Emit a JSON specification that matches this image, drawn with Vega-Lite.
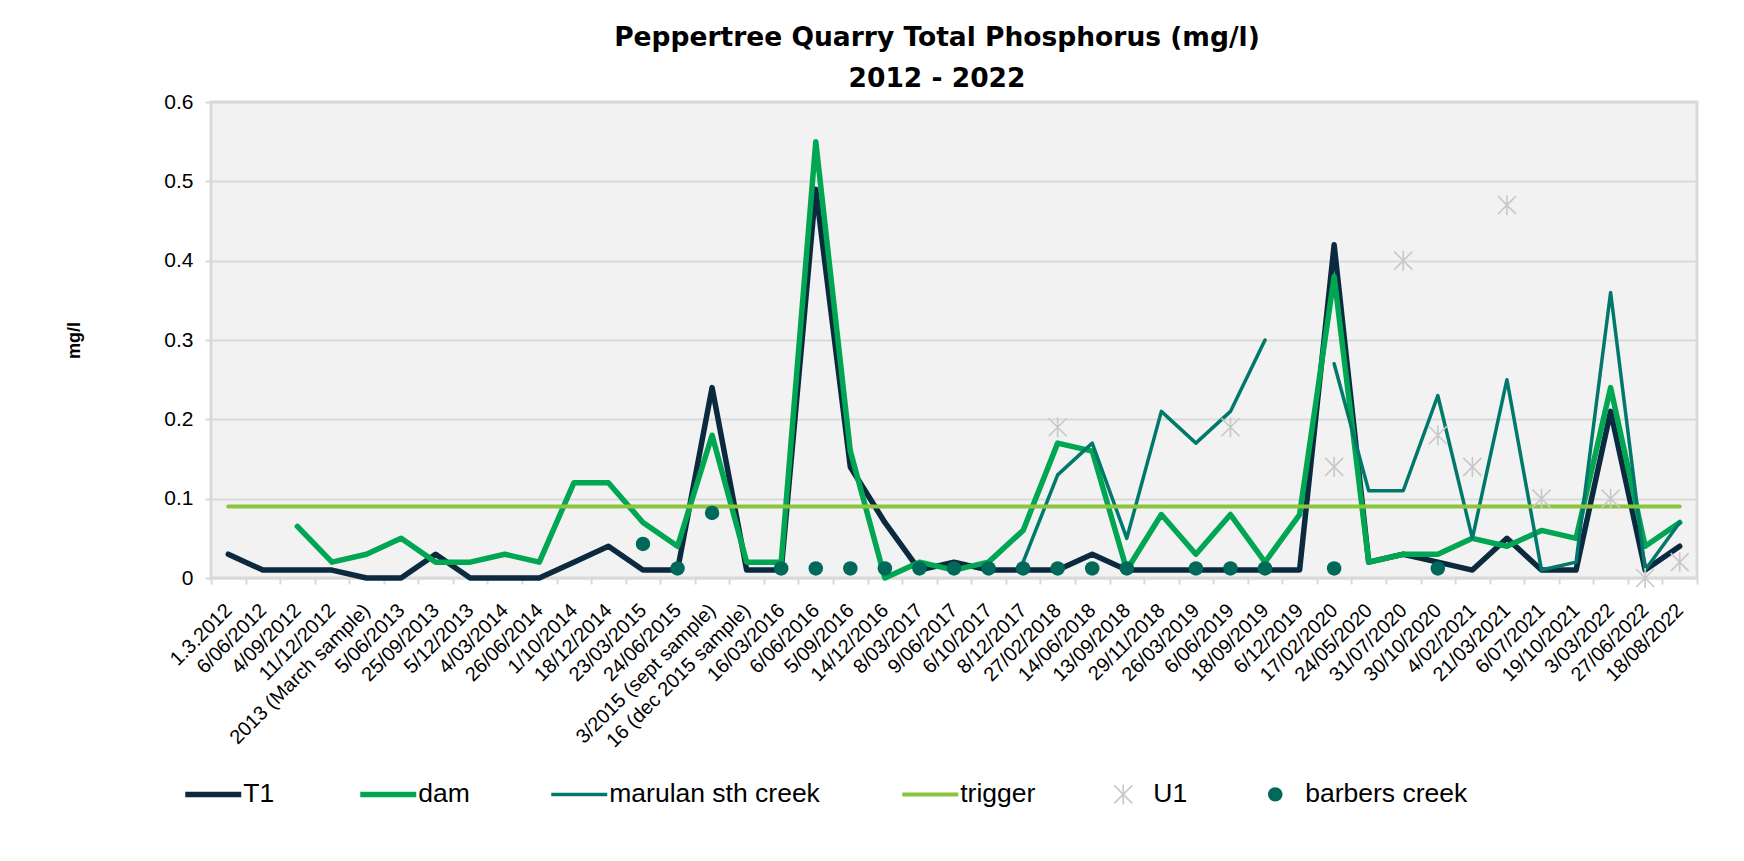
{
  "$schema": "https://vega.github.io/schema/vega-lite/v6.json",
  "width": 1486,
  "height": 476,
  "autosize": {"type": "none"},
  "padding": {"left": 211, "top": 102, "right": 47, "bottom": 283},
  "background": "white",
  "config": {
    "font": "Liberation Sans",
    "view": {"fill": "#f2f2f2", "stroke": "#d9d9d9", "strokeWidth": 3}
  },
  "title": {
    "text": ["Peppertree Quarry Total Phosphorus (mg/l)", "2012 - 2022"],
    "font": "DejaVu Sans",
    "fontSize": 26.5,
    "fontWeight": "bold",
    "color": "black",
    "lineHeight": 41,
    "anchor": "middle",
    "frame": "group",
    "dx": -17,
    "dy": 36,
    "offset": 8,
    "baseline": "bottom"
  },
  "data": {
    "values": [
      {"date": "1.3.2012", "T1": 0.03, "trigger": 0.09},
      {"date": "6/06/2012", "T1": 0.01, "trigger": 0.09},
      {"date": "4/09/2012", "T1": 0.01, "dam": 0.065, "trigger": 0.09},
      {"date": "11/12/2012", "T1": 0.01, "dam": 0.02, "trigger": 0.09},
      {"date": "2013 (March sample)", "T1": 0, "dam": 0.03, "trigger": 0.09},
      {"date": "5/06/2013", "T1": 0, "dam": 0.05, "trigger": 0.09},
      {"date": "25/09/2013", "T1": 0.03, "dam": 0.02, "trigger": 0.09},
      {"date": "5/12/2013", "T1": 0, "dam": 0.02, "trigger": 0.09},
      {"date": "4/03/2014", "T1": 0, "dam": 0.03, "trigger": 0.09},
      {"date": "26/06/2014", "T1": 0, "dam": 0.02, "trigger": 0.09},
      {"date": "1/10/2014", "T1": 0.02, "dam": 0.12, "trigger": 0.09},
      {"date": "18/12/2014", "T1": 0.04, "dam": 0.12, "trigger": 0.09},
      {"date": "23/03/2015", "T1": 0.01, "dam": 0.07, "trigger": 0.09, "barbers creek": 0.043},
      {"date": "24/06/2015", "T1": 0.01, "dam": 0.04, "trigger": 0.09, "barbers creek": 0.012},
      {"date": "3/2015 (sept sample)", "T1": 0.24, "dam": 0.18, "trigger": 0.09, "barbers creek": 0.082},
      {"date": "16 (dec 2015 sample)", "T1": 0.01, "dam": 0.02, "trigger": 0.09},
      {"date": "16/03/2016", "T1": 0.01, "dam": 0.02, "trigger": 0.09, "barbers creek": 0.012},
      {"date": "6/06/2016", "T1": 0.49, "dam": 0.55, "trigger": 0.09, "barbers creek": 0.012},
      {"date": "5/09/2016", "T1": 0.14, "dam": 0.16, "trigger": 0.09, "barbers creek": 0.012},
      {"date": "14/12/2016", "T1": 0.07, "dam": 0, "trigger": 0.09, "barbers creek": 0.012},
      {"date": "8/03/2017", "T1": 0.01, "dam": 0.02, "trigger": 0.09, "barbers creek": 0.012},
      {"date": "9/06/2017", "T1": 0.02, "dam": 0.01, "trigger": 0.09, "barbers creek": 0.012},
      {"date": "6/10/2017", "T1": 0.01, "dam": 0.02, "trigger": 0.09, "barbers creek": 0.012},
      {"date": "8/12/2017", "T1": 0.01, "dam": 0.06, "marulan sth creek": 0.02, "trigger": 0.09, "barbers creek": 0.012},
      {"date": "27/02/2018", "T1": 0.01, "dam": 0.17, "marulan sth creek": 0.13, "trigger": 0.09, "U1": 0.19, "barbers creek": 0.012},
      {"date": "14/06/2018", "T1": 0.03, "dam": 0.16, "marulan sth creek": 0.17, "trigger": 0.09, "barbers creek": 0.012},
      {"date": "13/09/2018", "T1": 0.01, "dam": 0.01, "marulan sth creek": 0.05, "trigger": 0.09, "barbers creek": 0.012},
      {"date": "29/11/2018", "T1": 0.01, "dam": 0.08, "marulan sth creek": 0.21, "trigger": 0.09},
      {"date": "26/03/2019", "T1": 0.01, "dam": 0.03, "marulan sth creek": 0.17, "trigger": 0.09, "barbers creek": 0.012},
      {"date": "6/06/2019", "T1": 0.01, "dam": 0.08, "marulan sth creek": 0.21, "trigger": 0.09, "U1": 0.19, "barbers creek": 0.012},
      {"date": "18/09/2019", "T1": 0.01, "dam": 0.02, "marulan sth creek": 0.30, "trigger": 0.09, "barbers creek": 0.012},
      {"date": "6/12/2019", "T1": 0.01, "dam": 0.08, "marulan sth creek": null, "trigger": 0.09},
      {"date": "17/02/2020", "T1": 0.42, "dam": 0.38, "marulan sth creek": 0.27, "trigger": 0.09, "U1": 0.14, "barbers creek": 0.012},
      {"date": "24/05/2020", "T1": 0.02, "dam": 0.02, "marulan sth creek": 0.11, "trigger": 0.09},
      {"date": "31/07/2020", "T1": 0.03, "dam": 0.03, "marulan sth creek": 0.11, "trigger": 0.09, "U1": 0.40},
      {"date": "30/10/2020", "T1": 0.02, "dam": 0.03, "marulan sth creek": 0.23, "trigger": 0.09, "U1": 0.18, "barbers creek": 0.012},
      {"date": "4/02/2021", "T1": 0.01, "dam": 0.05, "marulan sth creek": 0.05, "trigger": 0.09, "U1": 0.14},
      {"date": "21/03/2021", "T1": 0.05, "dam": 0.04, "marulan sth creek": 0.25, "trigger": 0.09, "U1": 0.47},
      {"date": "6/07/2021", "T1": 0.01, "dam": 0.06, "marulan sth creek": 0.01, "trigger": 0.09, "U1": 0.10},
      {"date": "19/10/2021", "T1": 0.01, "dam": 0.05, "marulan sth creek": 0.02, "trigger": 0.09},
      {"date": "3/03/2022", "T1": 0.21, "dam": 0.24, "marulan sth creek": 0.36, "trigger": 0.09, "U1": 0.10},
      {"date": "27/06/2022", "T1": 0.01, "dam": 0.04, "marulan sth creek": 0.01, "trigger": 0.09, "U1": 0},
      {"date": "18/08/2022", "T1": 0.04, "dam": 0.07, "marulan sth creek": 0.07, "trigger": 0.09, "U1": 0.02}
    ]
  },
  "transform": [
    {"fold": ["T1", "dam", "marulan sth creek", "trigger", "U1", "barbers creek"], "as": ["series", "value"]}
  ],
  "encoding": {
    "x": {
      "field": "date",
      "type": "nominal",
      "scale": {
        "domain": ["1.3.2012", "6/06/2012", "4/09/2012", "11/12/2012", "2013 (March sample)", "5/06/2013", "25/09/2013", "5/12/2013", "4/03/2014", "26/06/2014", "1/10/2014", "18/12/2014", "23/03/2015", "24/06/2015", "3/2015 (sept sample)", "16 (dec 2015 sample)", "16/03/2016", "6/06/2016", "5/09/2016", "14/12/2016", "8/03/2017", "9/06/2017", "6/10/2017", "8/12/2017", "27/02/2018", "14/06/2018", "13/09/2018", "29/11/2018", "26/03/2019", "6/06/2019", "18/09/2019", "6/12/2019", "17/02/2020", "24/05/2020", "31/07/2020", "30/10/2020", "4/02/2021", "21/03/2021", "6/07/2021", "19/10/2021", "3/03/2022", "27/06/2022", "18/08/2022"],
        "paddingInner": 0,
        "paddingOuter": 0
      },
      "axis": {
        "title": null,
        "labelAngle": -45,
        "labelAlign": "right",
        "labelBaseline": "middle",
        "labelFontSize": 20,
        "labelColor": "black",
        "labelPadding": 23,
        "labelOverlap": false,
        "labelLimit": 400,
        "domain": false,
        "grid": false,
        "ticks": true,
        "tickBand": "extent",
        "tickSize": 6,
        "tickColor": "#d9d9d9",
        "tickWidth": 2
      }
    },
    "y": {
      "field": "value",
      "type": "quantitative",
      "scale": {"domain": [0, 0.6], "nice": false},
      "axis": {
        "title": "mg/l",
        "titleFontSize": 18,
        "titleFontWeight": "bold",
        "titleColor": "black",
        "titlePadding": 80,
        "values": [0, 0.1, 0.2, 0.3, 0.4, 0.5, 0.6],
        "format": ".1~f",
        "labelFontSize": 21,
        "labelColor": "black",
        "labelPadding": 12,
        "domain": false,
        "gridColor": "#d9d9d9",
        "gridWidth": 2,
        "tickColor": "#d9d9d9",
        "tickSize": 6,
        "tickWidth": 2
      }
    }
  },
  "layer": [
    {
      "transform": [{"filter": {"field": "series", "equal": "T1"}}],
      "mark": {"type": "line", "invalid": "break-paths-filter-domains", "stroke": "#0b2a3f", "strokeWidth": 5.5, "strokeJoin": "round", "strokeCap": "round"},
      "encoding": {}
    },
    {
      "transform": [{"filter": {"field": "series", "equal": "dam"}}],
      "mark": {"type": "line", "invalid": "break-paths-filter-domains", "stroke": "#00a651", "strokeWidth": 5.5, "strokeJoin": "round", "strokeCap": "round"},
      "encoding": {}
    },
    {
      "transform": [{"filter": {"field": "series", "equal": "marulan sth creek"}}],
      "mark": {"type": "line", "invalid": "break-paths-filter-domains", "stroke": "#00796b", "strokeWidth": 3.5, "strokeJoin": "round", "strokeCap": "round"},
      "encoding": {}
    },
    {
      "transform": [{"filter": {"field": "series", "equal": "trigger"}}],
      "mark": {"type": "line", "invalid": "break-paths-filter-domains", "stroke": "#8bc43f", "strokeWidth": 4, "strokeJoin": "round", "strokeCap": "round"},
      "encoding": {}
    },
    {
      "transform": [{"filter": {"field": "series", "equal": "U1"}}, {"filter": "datum.value != null"}],
      "mark": {"type": "point", "filled": false, "opacity": 1, "shape": "M0,-1L0,1M-0.9,-0.9L0.9,0.9M-0.9,0.9L0.9,-0.9", "size": 400, "stroke": "#c8c8c8", "strokeWidth": 1.6},
      "encoding": {}
    },
    {
      "transform": [{"filter": {"field": "series", "equal": "barbers creek"}}, {"filter": "datum.value != null"}],
      "mark": {"type": "point", "filled": true, "opacity": 1, "shape": "circle", "size": 210},
      "encoding": {
        "fill": {
          "field": "series",
          "type": "nominal",
          "scale": {
            "domain": ["T1", "dam", "marulan sth creek", "trigger", "U1", "barbers creek"],
            "range": ["#0b2a3f", "#00a651", "#00796b", "#8bc43f", "#c8c8c8", "#00695a"]
          },
          "legend": {
            "orient": "none",
            "legendX": -11,
            "legendY": 679,
            "direction": "horizontal",
            "title": null,
            "labelFontSize": 26.5,
            "labelColor": "black",
            "labelOffset": 16.75,
            "labelLimit": 400,
            "columnPadding": 74,
            "symbolType": "stroke",
            "symbolSize": 3136,
            "symbolStrokeWidth": 5,
            "encoding": {
              "symbols": {
                "shape": {"value": {"expr": "datum.value === 'U1' ? 'M0,-1L0,1M-0.9,-0.9L0.9,0.9M-0.9,0.9L0.9,-0.9' : datum.value === 'barbers creek' ? 'circle' : 'stroke'"}},
                "size": {"value": {"expr": "datum.value === 'U1' ? 400 : datum.value === 'barbers creek' ? 210 : 3136"}},
                "strokeWidth": {"value": {"expr": "datum.value === 'marulan sth creek' ? 3.5 : datum.value === 'trigger' ? 4 : datum.value === 'U1' ? 1.6 : datum.value === 'barbers creek' ? 0 : 5.5"}},
                "stroke": {"value": {"expr": "datum.value === 'T1' ? '#0b2a3f' : datum.value === 'dam' ? '#00a651' : datum.value === 'marulan sth creek' ? '#00796b' : datum.value === 'trigger' ? '#8bc43f' : datum.value === 'U1' ? '#c8c8c8' : '#00695a'"}},
                "fill": {"value": {"expr": "datum.value === 'barbers creek' ? '#00695a' : 'transparent'"}},
                "opacity": {"value": 1}
              }
            }
          }
        }
      }
    }
  ]
}
